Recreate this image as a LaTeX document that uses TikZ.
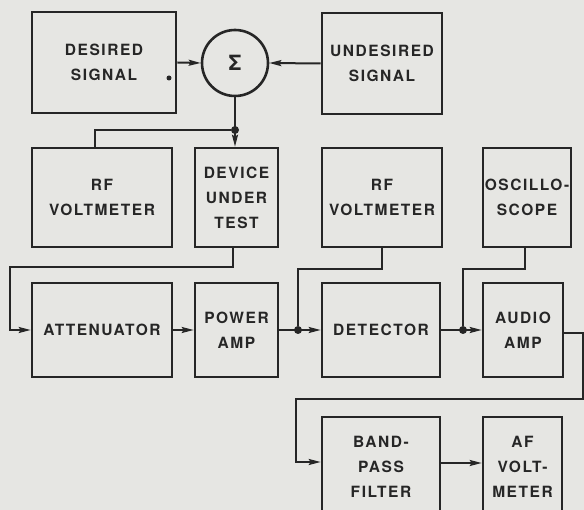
\documentclass[tikz,border=0pt]{standalone}
\usepackage{fontspec}
\setmainfont[LetterSpace=10]{TeX Gyre Heros}
\usetikzlibrary{arrows.meta}
\definecolor{paper}{HTML}{E6E6E3}
\definecolor{ink}{HTML}{262626}

\begin{document}
\begin{tikzpicture}[x=1pt,y=-1pt,
  box/.style={rectangle,draw=ink,line width=2.6pt,inner sep=0pt,
    align=center,text=ink,font=\fontsize{15.5}{25}\selectfont\bfseries},
  arr/.style={-{Stealth[length=12pt,width=6pt,inset=2pt]},draw=ink,line width=2pt},
  wire/.style={draw=ink,line width=2pt},
  jdot/.style={circle,fill=ink,inner sep=0pt,minimum size=8pt}]

  \fill[paper] (0,0) rectangle (584,510);
  \useasboundingbox (0,0) rectangle (584,510);

  % top row
  \node[box,minimum width=144,minimum height=101] (desired) at (104,62.5) {DESIRED\\SIGNAL};
  \node[box,circle,minimum size=66,font=\fontsize{21}{21}\selectfont\bfseries] (sum) at (235,63) {Σ};
  \node[box,minimum width=120,minimum height=101] (undesired) at (382,63.5) {UNDESIRED\\SIGNAL};
  \fill[ink] (169,78) circle (2.5pt);

  % meters
  \node[box,minimum width=140,minimum height=99] (rfvm1) at (102,197.5) {RF\\VOLTMETER};
  \node[box,minimum width=83,minimum height=99] (dut) at (236.5,197.5) {DEVICE\\UNDER\\TEST};
  \node[box,minimum width=120,minimum height=99] (rfvm2) at (382,197.5) {RF\\VOLTMETER};
  \node[box,minimum width=88,minimum height=99] (scope) at (527,197.5) {OSCILLO-\\SCOPE};

  % signal chain
  \node[box,minimum width=140,minimum height=94] (atten) at (102,330) {ATTENUATOR};
  \node[box,minimum width=83,minimum height=94] (pwramp) at (236.5,330) {POWER\\AMP};
  \node[box,minimum width=118,minimum height=94] (detector) at (381,330) {DETECTOR};
  \node[box,minimum width=80,minimum height=94] (audioamp) at (523,330) {AUDIO\\AMP};

  \node[box,minimum width=118,minimum height=100] (bpf) at (381,467) {BAND-\\PASS\\FILTER};
  \node[box,minimum width=79,minimum height=100] (afvm) at (522.5,467) {AF\\VOLT-\\METER};

  % junctions
  \node[jdot] (d1) at (235,130) {};
  \node[jdot] (d2) at (298,330) {};
  \node[jdot] (d3) at (463,330) {};
  \coordinate (c1) at (10,330);
  \coordinate (c2) at (583,399);
  \coordinate (c3) at (296,399);

  \draw[arr] (desired.east) -- (sum.west);
  \draw[arr] (undesired.west) -- (sum.east);
  \draw[arr] (sum.south) -- (sum.south |- dut.north);
  \draw[wire] (d1) -| ([xshift=-7pt]rfvm1.north);
  \draw[arr] ([xshift=-3.5pt]dut.south) -- ++(0,19) -| (c1) -- (atten.west);
  \draw[arr] (atten.east) -- (pwramp.west);
  \draw[arr] (pwramp.east) -- (detector.west);
  \draw[wire] (rfvm2.south) -- ++(0,21) -| (d2);
  \draw[arr] (detector.east) -- (audioamp.west);
  \draw[wire] ([xshift=-2pt]scope.south) -- ++(0,21) -| (d3);
  \draw[arr] ([yshift=-3pt]audioamp.east) -| (c2) -- (c3) |- ([yshift=5pt]bpf.west);
  \draw[arr] ([yshift=4pt]bpf.east) -- ([yshift=4pt]afvm.west);
\end{tikzpicture}
\end{document}
